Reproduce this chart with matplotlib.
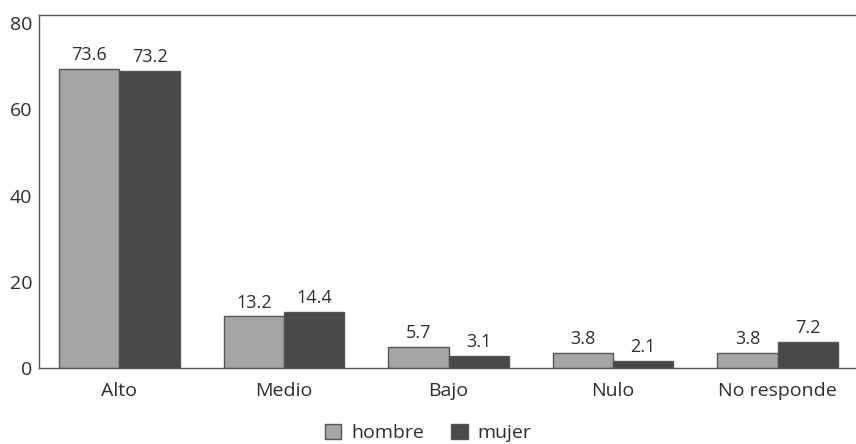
import numpy as np
import matplotlib
matplotlib.use('Agg')
import matplotlib.pyplot as plt

plt.rcParams['font.family'] = ['Open Sans', 'DejaVu Sans']

categories = ['Alto', 'Medio', 'Bajo', 'Nulo', 'No responde']
series = ['hombre', 'mujer']

# printed values (labels above bars)
hombre_vals = [73.6, 13.2, 5.7, 3.8, 3.8]
mujer_vals = [73.2, 14.4, 3.1, 2.1, 7.2]

# bar heights as drawn in the original chart (axis scale is off from labels)
hombre_drawn = [69.3, 12.0, 5.0, 3.5, 3.5]
mujer_drawn = [68.9, 13.0, 2.85, 1.7, 6.15]

y_ticks = [0, 20, 40, 60, 80]

C_HOMBRE = '#a5a5a8'
C_MUJER = '#49494c'
C_EDGE = '#555555'
C_TEXT = '#2e2e2e'

fig = plt.figure(figsize=(8.56, 4.44), dpi=100)
ax = fig.add_axes([39.3 / 856, 1 - 368.3 / 444, 1 - 39.3 / 856, (368.3 - 14.7) / 444])

x = np.arange(len(categories))
w = 0.365
b1 = ax.bar(x - w / 2, hombre_drawn, w, color=C_HOMBRE, edgecolor=C_EDGE,
            linewidth=1.0, label=series[0])
b2 = ax.bar(x + w / 2, mujer_drawn, w, color=C_MUJER, edgecolor=C_EDGE,
            linewidth=1.0, label=series[1])

for bars, vals in ((b1, hombre_vals), (b2, mujer_vals)):
    for rect, v in zip(bars, vals):
        ax.annotate(f'{v:.1f}', (rect.get_x() + rect.get_width() / 2, rect.get_height()),
                    xytext=(0, 3.5), textcoords='offset points', ha='center', va='bottom',
                    fontsize=13, color=C_TEXT)

ax.set_xlim(-0.4875, 4.477)
ax.set_ylim(0, 81.9)
ax.set_yticks(y_ticks)
ax.set_xticks(x)
ax.set_xticklabels(categories)
ax.tick_params(axis='both', length=0, colors=C_TEXT)
ax.tick_params(axis='x', pad=10, labelsize=14)
ax.tick_params(axis='y', pad=5, labelsize=14)

for side in ('left', 'top', 'bottom'):
    ax.spines[side].set_color(C_EDGE)
    ax.spines[side].set_linewidth(1.0)
ax.spines['right'].set_visible(False)

fig.legend(handles=[b1, b2], loc='center', bbox_to_anchor=(0.5, 1 - 433 / 444),
           ncol=2, frameon=False, fontsize=14, handlelength=0.85, handleheight=0.85,
           handletextpad=0.5, columnspacing=1.4, labelcolor=C_TEXT)

plt.savefig('out.png', dpi=100)
